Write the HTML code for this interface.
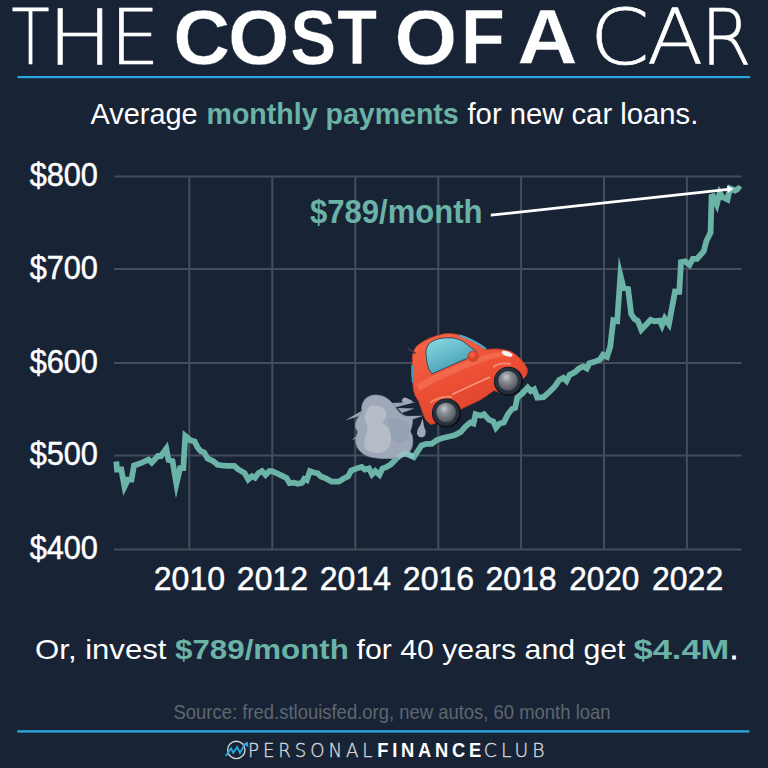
<!DOCTYPE html>
<html><head><meta charset="utf-8"><title>The Cost of a Car</title>
<style>
html,body{margin:0;padding:0;background:#182435;}
svg{display:block}
.ax{font-family:"Liberation Sans",Arial,sans-serif;fill:#fff;stroke:#fff;stroke-width:0.5px}
.thin{font-family:"DejaVu Sans",sans-serif;font-weight:200;fill:#fff;stroke:#fff;stroke-width:0.6px}
.bold{font-family:"Liberation Sans",sans-serif;font-weight:700;fill:#fff;stroke:#182435;stroke-width:0.4px}
.sub{font-family:"Liberation Sans",sans-serif;fill:#fff}
.subb{font-family:"Liberation Sans",sans-serif;font-weight:700;fill:#6ab3a6}
.src{font-family:"Liberation Sans",sans-serif;fill:#5f6670}
.lg{font-family:"DejaVu Sans",sans-serif;font-weight:200;fill:#d4d7db;stroke:#d4d7db;stroke-width:0.35px}
.lgb{font-family:"Liberation Sans",sans-serif;font-weight:700;fill:#fff}
</style></head>
<body>
<svg width="768" height="768" viewBox="0 0 768 768">
<defs>
  <linearGradient id="win" x1="0" y1="0" x2="0.6" y2="1">
    <stop offset="0" stop-color="#8fdde6"/><stop offset="1" stop-color="#3f98b0"/>
  </linearGradient>
  <linearGradient id="body" x1="0" y1="0" x2="0" y2="1" gradientTransform="rotate(-27 0.5 0.5)">
    <stop offset="0" stop-color="#f26144"/><stop offset="0.5" stop-color="#eb4e33"/><stop offset="1" stop-color="#d5412a"/>
  </linearGradient>
  <radialGradient id="hub" cx="0.42" cy="0.35" r="0.75" fx="0.4" fy="0.3">
    <stop offset="0" stop-color="#c8cbce"/><stop offset="0.3" stop-color="#8f9398"/><stop offset="0.8" stop-color="#5a5e64"/><stop offset="1" stop-color="#3e4248"/>
  </radialGradient>
</defs>
<rect width="768" height="768" fill="#182435"/>
<!-- title -->
<text y="64.4"><tspan class="thin" x="11.55" font-size="77" textLength="38.06" lengthAdjust="spacingAndGlyphs">T</tspan><tspan class="thin" x="47.54" font-size="77" textLength="65.13" lengthAdjust="spacingAndGlyphs">H</tspan><tspan class="thin" x="109.85" font-size="77" textLength="50.13" lengthAdjust="spacingAndGlyphs">E</tspan> <tspan class="bold" x="173.27" font-size="78" textLength="56.94" lengthAdjust="spacingAndGlyphs">C</tspan><tspan class="bold" x="228.10" font-size="78" textLength="61.43" lengthAdjust="spacingAndGlyphs">O</tspan><tspan class="bold" x="290.27" font-size="78" textLength="45.95" lengthAdjust="spacingAndGlyphs">S</tspan><tspan class="bold" x="337.21" font-size="78" textLength="39.70" lengthAdjust="spacingAndGlyphs">T</tspan> <tspan class="bold" x="394.53" font-size="78" textLength="62.74" lengthAdjust="spacingAndGlyphs">O</tspan><tspan class="bold" x="461.07" font-size="78" textLength="43.82" lengthAdjust="spacingAndGlyphs">F</tspan> <tspan class="bold" x="517.39" font-size="78" textLength="60.40" lengthAdjust="spacingAndGlyphs">A</tspan> <tspan class="thin" x="589.65" font-size="77" textLength="59.84" lengthAdjust="spacingAndGlyphs">C</tspan><tspan class="thin" x="646.91" font-size="77" textLength="56.18" lengthAdjust="spacingAndGlyphs">A</tspan><tspan class="thin" x="700.87" font-size="77" textLength="50.89" lengthAdjust="spacingAndGlyphs">R</tspan></text>
<rect x="17.5" y="76" width="732.5" height="2.2" fill="#2aa6df"/>
<!-- subtitle -->
<text y="124.2"><tspan class="sub" x="90.49" font-size="30" textLength="107.14" lengthAdjust="spacingAndGlyphs">Average</tspan> <tspan class="subb" x="206.51" font-size="30" textLength="252.23" lengthAdjust="spacingAndGlyphs">monthly payments</tspan> <tspan class="sub" x="467.51" font-size="30" textLength="230.76" lengthAdjust="spacingAndGlyphs">for new car loans.</tspan></text>
<line x1="114" y1="176.6" x2="741.7" y2="176.6" stroke="#434d5b" stroke-width="2"/>
<line x1="114" y1="269.0" x2="741.7" y2="269.0" stroke="#434d5b" stroke-width="2"/>
<line x1="114" y1="363.0" x2="741.7" y2="363.0" stroke="#434d5b" stroke-width="2"/>
<line x1="114" y1="455.6" x2="741.7" y2="455.6" stroke="#434d5b" stroke-width="2"/>
<line x1="114" y1="549.5" x2="741.7" y2="549.5" stroke="#434d5b" stroke-width="2"/>
<line x1="189.3" y1="176.6" x2="189.3" y2="549.5" stroke="#434d5b" stroke-width="2"/>
<line x1="272.3" y1="176.6" x2="272.3" y2="549.5" stroke="#434d5b" stroke-width="2"/>
<line x1="355.3" y1="176.6" x2="355.3" y2="549.5" stroke="#434d5b" stroke-width="2"/>
<line x1="438.3" y1="176.6" x2="438.3" y2="549.5" stroke="#434d5b" stroke-width="2"/>
<line x1="521.1" y1="176.6" x2="521.1" y2="549.5" stroke="#434d5b" stroke-width="2"/>
<line x1="604.0" y1="176.6" x2="604.0" y2="549.5" stroke="#434d5b" stroke-width="2"/>
<line x1="686.9" y1="176.6" x2="686.9" y2="549.5" stroke="#434d5b" stroke-width="2"/>
<text y="186.2"><tspan class="ax" x="29.67" font-size="32.4" textLength="68.26" lengthAdjust="spacingAndGlyphs">$800</tspan></text>
<text y="278.6"><tspan class="ax" x="29.67" font-size="32.4" textLength="68.26" lengthAdjust="spacingAndGlyphs">$700</tspan></text>
<text y="372.6"><tspan class="ax" x="29.67" font-size="32.4" textLength="68.26" lengthAdjust="spacingAndGlyphs">$600</tspan></text>
<text y="465.2"><tspan class="ax" x="29.67" font-size="32.4" textLength="68.26" lengthAdjust="spacingAndGlyphs">$500</tspan></text>
<text y="559.1"><tspan class="ax" x="29.67" font-size="32.4" textLength="68.26" lengthAdjust="spacingAndGlyphs">$400</tspan></text>
<text y="589.6"><tspan class="ax" x="153.85" font-size="32.4" textLength="71.13" lengthAdjust="spacingAndGlyphs">2010</tspan></text>
<text y="589.6"><tspan class="ax" x="236.87" font-size="32.4" textLength="71.10" lengthAdjust="spacingAndGlyphs">2012</tspan></text>
<text y="589.6"><tspan class="ax" x="319.85" font-size="32.4" textLength="71.12" lengthAdjust="spacingAndGlyphs">2014</tspan></text>
<text y="589.6"><tspan class="ax" x="402.87" font-size="32.4" textLength="71.10" lengthAdjust="spacingAndGlyphs">2016</tspan></text>
<text y="589.6"><tspan class="ax" x="485.47" font-size="32.4" textLength="71.10" lengthAdjust="spacingAndGlyphs">2018</tspan></text>
<text y="589.6"><tspan class="ax" x="569.27" font-size="32.4" textLength="70.10" lengthAdjust="spacingAndGlyphs">2020</tspan></text>
<text y="589.6"><tspan class="ax" x="652.06" font-size="32.4" textLength="71.12" lengthAdjust="spacingAndGlyphs">2022</tspan></text>
<polyline points="116.3,461.5 117.0,469.5 121.3,469.5 124.5,486.8 127.9,479.7 131.5,479.7 134.0,465.5 139.2,463.8 148.5,459.6 151.7,462.7 157.9,456.0 161.0,456.0 166.3,448.6 168.5,460.0 172.5,461.0 176.4,483.9 180.1,468.2 183.3,468.2 185.3,436.0 190.4,440.3 194.6,441.4 197.7,447.6 200.8,451.2 204.0,452.3 207.6,458.5 213.3,461.1 217.5,464.8 221.7,465.3 226.9,465.8 234.2,465.8 238.3,469.5 244.6,473.1 248.2,479.4 251.9,476.2 255.0,477.8 258.3,473.3 262.0,471.2 265.6,474.9 269.3,471.2 271.9,471.2 277.1,473.3 281.2,475.4 286.5,478.0 289.6,483.2 293.8,482.7 297.9,483.8 302.1,482.7 304.2,479.0 306.8,480.1 309.9,471.2 314.6,472.8 317.7,473.3 320.8,476.5 325.0,478.0 331.5,481.6 338.8,481.6 342.9,479.0 348.1,476.4 351.2,470.6 356.5,468.5 361.7,467.0 364.8,469.6 369.0,468.5 372.0,474.3 375.2,471.1 379.4,474.8 382.5,468.5 386.7,467.0 390.8,464.4 395.0,460.2 400.0,455.0 405.0,453.0 413.8,457.0 421.5,445.5 426.5,443.8 431.7,443.8 436.9,440.0 442.0,438.3 448.3,436.8 454.6,435.2 460.8,432.0 465.2,426.7 470.4,422.5 473.5,423.5 475.6,414.2 480.8,415.7 484.0,414.2 489.2,419.9 493.3,421.5 496.0,427.7 499.6,423.5 503.8,422.5 507.9,414.2 512.1,409.0 515.2,407.9 517.3,397.5 522.5,393.3 527.7,387.6 530.8,391.2 534.2,389.4 537.3,397.7 543.5,397.2 548.8,392.5 555.0,386.2 559.2,380.0 563.3,377.9 566.5,381.0 569.6,374.8 574.8,372.2 579.0,368.5 583.1,366.5 586.8,368.5 589.4,363.3 594.6,361.8 599.8,359.7 603.0,354.8 607.0,356.8 610.2,346.9 613.3,320.3 617.2,321.1 620.4,275.2 623.4,287.5 628.1,289.0 631.2,314.0 634.4,318.8 637.8,321.0 641.3,329.8 650.6,319.9 654.7,321.2 659.7,320.6 662.0,325.5 664.8,318.5 668.9,324.1 675.0,291.6 679.3,291.8 681.0,262.2 685.2,261.4 689.5,264.8 692.8,258.8 697.0,258.8 703.8,251.2 706.4,241.0 710.6,232.6 711.6,196.6 713.0,196.2 716.8,204.5 719.8,192.8 722.5,197.0 727.5,199.5 730.0,188.5 735.0,190.5 738.5,188.5 740.3,190.0" fill="none" stroke="#6ab3a6" stroke-width="5.8" stroke-linejoin="miter" stroke-miterlimit="20"/>
<!-- annotation -->
<text y="223"><tspan class="subb" x="309.89" font-size="33" textLength="172.71" lengthAdjust="spacingAndGlyphs">$789/month</tspan></text>
<line x1="490.8" y1="215.2" x2="728" y2="189.4" stroke="#fff" stroke-width="2.8"/>
<path d="M733.5 188.8 L727 185.6 L727.8 193 Z" fill="#fff"/>
<g id="cloud">
<path d="M390.83 402.92 L416.35 401.98 L393.96 407.71 Z" fill="#9aa3b3"/>
<path d="M397.60 408.12 L414.58 408.54 L401.77 412.92 Z" fill="#9aa3b3"/>
<path d="M403.33 416.04 L423.33 415.83 L407.50 421.25 Z" fill="#9aa3b3"/>
<path d="M360.83 411.25 L345.00 420.62 L362.50 415.00 Z" fill="#9aa3b3"/>
<path d="M357.29 435.62 L352.08 439.79 L358.75 438.33 Z" fill="#9aa3b3"/>
<path d="M362.19 404.79 C362.88 402.80 364.18 400.10 365.83 398.54 C367.48 396.98 369.83 395.94 372.08 395.42 C374.34 394.90 377.12 395.07 379.38 395.42 C381.63 395.76 383.72 396.46 385.62 397.50 C387.53 398.54 389.44 400.31 390.83 401.67 C392.22 403.02 393.00 404.41 393.96 405.62 C394.91 406.84 395.52 407.74 396.56 408.96 C397.60 410.17 398.65 411.70 400.21 412.92 C401.77 414.13 404.20 415.61 405.94 416.25 C407.67 416.89 409.53 416.16 410.62 416.77 C411.72 417.38 412.33 418.25 412.50 419.90 C412.67 421.55 412.01 424.76 411.67 426.67 C411.32 428.58 410.33 429.79 410.42 431.35 C410.50 432.92 411.81 434.05 412.19 436.04 C412.57 438.04 412.97 440.99 412.71 443.33 C412.45 445.68 411.84 448.02 410.62 450.10 C409.41 452.19 407.67 454.53 405.42 455.83 C403.16 457.14 400.21 457.48 397.08 457.92 C393.96 458.35 390.14 458.44 386.67 458.44 C383.19 458.44 379.55 458.35 376.25 457.92 C372.95 457.48 369.65 457.05 366.88 455.83 C364.10 454.62 361.41 452.71 359.58 450.62 C357.76 448.54 356.46 445.76 355.94 443.33 C355.42 440.90 356.20 437.95 356.46 436.04 C356.72 434.13 357.67 433.44 357.50 431.88 C357.33 430.31 355.59 428.58 355.42 426.67 C355.24 424.76 355.76 422.33 356.46 420.42 C357.15 418.51 358.72 416.86 359.58 415.21 C360.45 413.56 361.23 412.26 361.67 410.52 C362.10 408.78 361.49 406.79 362.19 404.79 Z" fill="#9fa8b8" stroke="#8a93a4" stroke-width="0.8"/>
<path d="M388.75 420.42 C390.31 418.68 396.04 419.03 399.17 419.38 C402.29 419.72 405.76 420.76 407.50 422.50 C409.24 424.24 409.58 427.01 409.58 429.79 C409.58 432.57 409.24 436.91 407.50 439.17 C405.76 441.42 401.77 443.33 399.17 443.33 C396.56 443.33 393.44 441.42 391.88 439.17 C390.31 436.91 390.31 432.92 389.79 429.79 C389.27 426.67 387.19 422.15 388.75 420.42 Z" fill="#94a0b3" opacity="0.8"/>
<path d="M367.40 408.96 C368.44 407.74 369.91 406.27 372.08 405.83 C374.25 405.40 378.16 405.49 380.42 406.35 C382.67 407.22 384.67 409.22 385.62 411.04 C386.58 412.86 386.58 415.38 386.15 417.29 C385.71 419.20 382.59 420.59 383.02 422.50 C383.45 424.41 387.45 426.32 388.75 428.75 C390.05 431.18 390.66 434.31 390.83 437.08 C391.01 439.86 391.01 442.99 389.79 445.42 C388.58 447.85 386.32 450.45 383.54 451.67 C380.76 452.88 376.08 453.23 373.12 452.71 C370.17 452.19 367.31 450.45 365.83 448.54 C364.36 446.63 364.18 443.68 364.27 441.25 C364.36 438.82 365.83 436.39 366.35 433.96 C366.88 431.53 367.66 429.10 367.40 426.67 C367.14 424.24 365.05 421.63 364.79 419.38 C364.53 417.12 365.40 414.86 365.83 413.12 C366.27 411.39 366.35 410.17 367.40 408.96 Z" fill="#b5bcc8"/>
<path d="M401.77 400.62 C401.86 399.67 403.25 397.76 404.38 397.50 C405.50 397.24 407.15 398.37 408.54 399.06 C409.93 399.76 412.80 401.02 412.71 401.67 C412.62 402.31 409.50 402.66 408.02 402.92 C406.55 403.18 404.90 403.61 403.85 403.23 C402.81 402.85 401.68 401.58 401.77 400.62 Z" fill="#a0a9b9"/>
<path d="M422.60 419.38 C423.21 419.72 423.65 424.58 424.17 426.67 C424.69 428.75 425.73 430.23 425.73 431.88 C425.73 433.52 425.12 435.69 424.17 436.56 C423.21 437.43 421.18 437.52 420.00 437.08 C418.82 436.65 417.43 435.26 417.08 433.96 C416.74 432.66 417.34 430.83 417.92 429.27 C418.49 427.71 419.74 426.23 420.52 424.58 C421.30 422.93 422.00 419.03 422.60 419.38 Z" fill="#a0a9b9"/>
</g>
<polyline points="398,457.5 405,453 413.8,457" fill="none" stroke="#8fd3d3" stroke-width="5" opacity="0.55"/>

<g id="car">
  <path d="M412.3 372 L412.3 358 Q413 349 418 345 Q428 337 444.6 333.7 Q456 333 465 337 Q476 342 486 349.6 Q500 347.5 511 351.5 Q522 358 527 368 Q528.5 374 524.5 377.5 L521 380 L508 395 L494 390.5 L481 399.5 L461 409 L446 420 L431 424.5 Q425 421 423 413.5 L418.5 401 Q414 395 413.3 388.5 Z" fill="url(#body)" stroke="#c73b26" stroke-width="0.8"/>
  <path d="M417 384 Q450 366 488 354 Q505 350 515 355 Q500 356 488 360 Q450 373 419 391 Z" fill="#f57a5c" opacity="0.55"/>
  <path d="M452 394.5 Q470 386 490 377" stroke="#f9a58e" stroke-width="1.6" fill="none" opacity="0.85"/>
  <path d="M430 403 Q439 396 452 397" stroke="#f9a58e" stroke-width="2.2" fill="none" opacity="0.6"/>
  <path d="M493 367 Q501 362 511 364" stroke="#f9a58e" stroke-width="2.2" fill="none" opacity="0.6"/>
  <path d="M460 335.5 Q474 340 486 349" stroke="#4fa9c8" stroke-width="2" fill="none"/>
  <path d="M411.3 365 Q410.8 374 412 383 L413.3 383 Q412.6 374 413.3 365 Z" fill="#3a9ec0"/>
  <path d="M425.8 352 Q427 344 432 341.5 Q438 338 444.6 337.9 L452.9 337.9 Q458 338.5 463.3 341.5 L476.9 352 Q474 356 467.5 358.2 L432 373.8 Q428 370 426.9 362.4 Z" fill="url(#win)" stroke="#2c4656" stroke-width="0.9"/>
  <circle cx="473.2" cy="356.2" r="5.3" fill="#dc452c" stroke="#c23a25" stroke-width="0.6"/>
  <circle cx="472.2" cy="354.8" r="2.6" fill="#f06a50" opacity="0.7"/>
  <ellipse cx="507.1" cy="353.8" rx="5.7" ry="2.4" fill="#f4f4f4" transform="rotate(20 507.1 353.8)"/>
  <line x1="408" y1="348.6" x2="415" y2="353" stroke="#3a4048" stroke-width="1.6" stroke-linecap="round"/>
  <circle cx="446.5" cy="413" r="14.6" fill="#0c0f14"/>
  <circle cx="446" cy="412.4" r="13.4" fill="#27313e"/>
  <circle cx="446.1" cy="412.5" r="9.8" fill="url(#hub)"/>
  <circle cx="508.5" cy="381.3" r="14.6" fill="#0c0f14"/>
  <circle cx="508" cy="380.7" r="13.4" fill="#27313e"/>
  <circle cx="508.1" cy="380.8" r="9.8" fill="url(#hub)"/>
</g>

<!-- bottom -->
<text y="658.5"><tspan class="sub" x="35.11" font-size="28.5" textLength="131.25" lengthAdjust="spacingAndGlyphs">Or, invest</tspan> <tspan class="subb" x="175.10" font-size="28.5" textLength="173.72" lengthAdjust="spacingAndGlyphs">$789/month</tspan> <tspan class="sub" x="356.51" font-size="28.5" textLength="269.00" lengthAdjust="spacingAndGlyphs">for 40 years and get</tspan> <tspan class="subb" x="633.50" font-size="28.5" textLength="95.79" lengthAdjust="spacingAndGlyphs">$4.4M</tspan><tspan class="sub" x="730" font-size="28.5" stroke="#fff" stroke-width="0.8">.</tspan></text>
<text y="719"><tspan class="src" x="173.54" font-size="21" textLength="437.00" lengthAdjust="spacingAndGlyphs">Source: fred.stlouisfed.org, new autos, 60 month loan</tspan></text>
<rect x="17.2" y="730.2" width="732.2" height="2.4" fill="#2aa6df"/>

<g id="logo">
  <circle cx="236.3" cy="749.9" r="8.7" fill="none" stroke="#d2d5d9" stroke-width="1.35"/>
  <polyline points="225.9,756.1 231,748.3 233.3,752.6 237.2,747.2 240,753 244.6,744.6" fill="none" stroke="#2aa6df" stroke-width="1.9" stroke-linejoin="miter"/>
  <path d="M247.9 741.6 L248.4 747.2 L242.9 744.1 Z" fill="#2aa6df"/>
</g>

<text y="757"><tspan class="lg" x="248.04" font-size="18.6" textLength="128.21" lengthAdjust="spacingAndGlyphs" letter-spacing="4">PERSONAL</tspan><tspan class="lgb" x="377.25" font-size="19.5" textLength="107.64" lengthAdjust="spacingAndGlyphs" letter-spacing="4">FINANCE</tspan><tspan class="lg" x="483.79" font-size="18.6" textLength="64.65" lengthAdjust="spacingAndGlyphs" letter-spacing="4">CLUB</tspan></text>
</svg>
</body></html>
